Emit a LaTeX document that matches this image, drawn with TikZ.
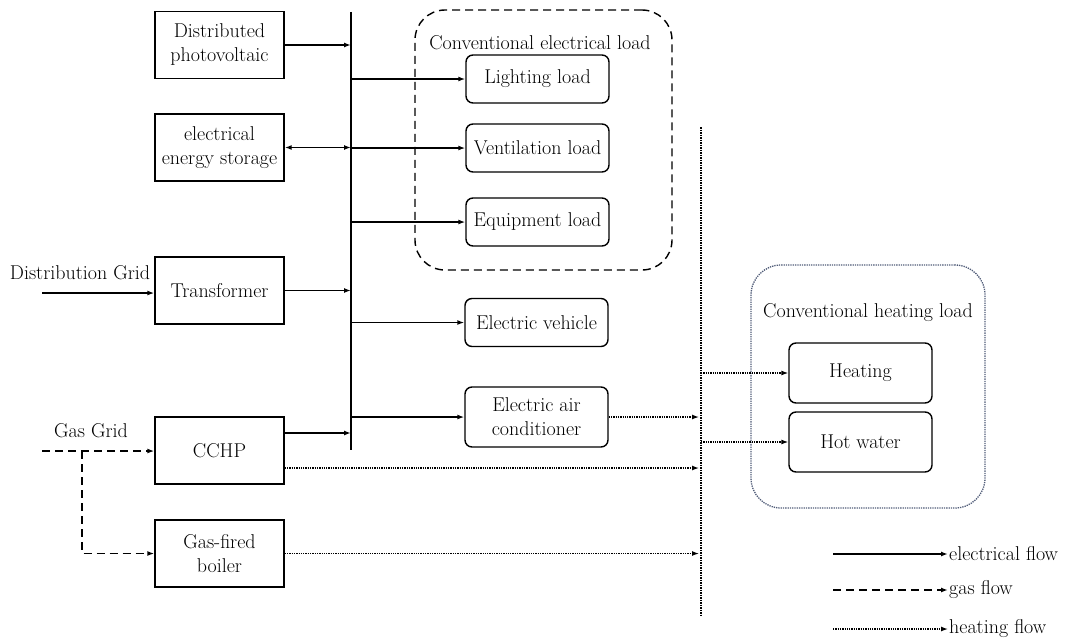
\documentclass[tikz,border=0pt]{standalone}
\usepackage{xcolor}
\usepackage{tikz}
\usetikzlibrary{arrows.meta, positioning, calc}

\definecolor{heatgrp}{RGB}{80,92,120}

\begin{document}
\begin{tikzpicture}[
    x=1pt, y=-1pt,
    font=\rmfamily\fontsize{20}{24}\selectfont,
    src/.style={rectangle, draw, line width=1.4pt, minimum width=129pt, minimum height=67pt, align=center, inner sep=2pt},
    load/.style={rectangle, rounded corners=7pt, draw, line width=1.4pt, minimum width=143pt, minimum height=#1, align=center, inner sep=2pt},
    load/.default=48pt,
    elec/.style={-{Latex[length=7pt, width=5pt]}, line width=1.4pt},
    gas/.style={elec, dash pattern=on 8pt off 5pt},
    heat/.style={elec, line width=1.3pt, densely dotted},
    bus/.style={line width=1.5pt}
]
\useasboundingbox (0,0) rectangle (1070,642);

% Sources
\node[src] (pv) at (219.5,45) {Distributed\\photovoltaic};
\node[src] (ees) at (219.5,147.5) {electrical\\energy storage};
\node[src] (trans) at (219.5,290.5) {Transformer};
\node[src] (cchp) at (219.5,450.5) {CCHP};
\node[src] (boiler) at (219.5,553.5) {Gas-fired\\boiler};

% Electrical bus
\coordinate (ebustop) at (351,12);
\coordinate (ebusbot) at (351,450);
\draw[bus] (ebustop) -- (ebusbot);

% Conventional electrical load
\node[draw, dash pattern=on 8pt off 5pt, line width=1.4pt, rounded corners=30pt,
      minimum width=257pt, minimum height=260pt] (elecgrp) at (543.5,140) {};
\node (eleclbl) at (540,43) {Conventional electrical load};
\node[load] (light) at (537.5,79) {Lighting load};
\node[load] (vent) at (537.5,148) {Ventilation load};
\node[load] (equip) at (537.5,222) {Equipment load};

% Other electrical loads
\node[load] (ev) at (536.5,322.5) {Electric vehicle};
\node[load=60pt] (ac) at (536.5,417) {Electric air\\conditioner};

% Heating bus
\coordinate (hbustop) at (701,127);
\coordinate (hbusbot) at (701,617);
\draw[bus, densely dotted] (hbustop) -- (hbusbot);

% Conventional heating load
\node[draw=heatgrp, densely dotted, line width=1.3pt, rounded corners=30pt,
      minimum width=234pt, minimum height=243pt] (heatgrp) at (868,386.5) {};
\node (heatlbl) at (868,313) {Conventional heating load};
\node[load=60pt] (heating) at (860.5,373) {Heating};
\node[load=60pt] (hotw) at (860.5,442) {Hot water};

% Grid inputs
\coordinate (dgrid) at (42,293);
\node (dgridlbl) at (80,273) {Distribution Grid};
\draw[elec] (dgrid) -- (dgrid -| trans.west);
\coordinate (ggrid) at (42,451);
\coordinate (gsplit) at (82,451);
\node (ggridlbl) at (91,431) {Gas Grid};
\draw[gas] (ggrid) -- (ggrid -| cchp.west);
\draw[gas] (gsplit) |- (boiler.west);

% Electrical flows
\draw[elec] (pv.east) -- (pv.east -| ebustop);
\draw[elec, {Latex[length=7pt, width=5pt]}-{Latex[length=7pt, width=5pt]}] (ees.east) -- (ees.east -| ebustop);
\draw[elec] (trans.east) -- (trans.east -| ebustop);
\draw[elec] ([yshift=17.5pt]cchp.east) -- ([yshift=17.5pt]cchp.east -| ebustop);
\draw[elec] (light.west -| ebustop) -- (light.west);
\draw[elec] (vent.west -| ebustop) -- (vent.west);
\draw[elec] (equip.west -| ebustop) -- (equip.west);
\draw[elec] (ev.west -| ebustop) -- (ev.west);
\draw[elec] (ac.west -| ebustop) -- (ac.west);

% Heating flows
\draw[heat] (ac.east) -- ([xshift=-2pt]ac.east -| hbustop);
\draw[heat] ([yshift=-17.5pt]cchp.east) -- ([xshift=-2pt,yshift=-17.5pt]cchp.east -| hbustop);
\draw[heat] (boiler.east) -- ([xshift=-2pt]boiler.east -| hbustop);
\draw[heat] (heating.west -| hbustop) -- (heating.west);
\draw[heat] (hotw.west -| hbustop) -- (hotw.west);

% Legend
\coordinate (lgelec) at (833,554);
\coordinate (lggas) at (833,590);
\coordinate (lgheat) at (833,629);
\node[anchor=west, inner sep=1pt] (lgeleclbl) at (948,554) {electrical flow};
\node[anchor=west, inner sep=1pt] (lggaslbl) at (948,590) {gas flow};
\node[anchor=west, inner sep=1pt] (lgheatlbl) at (948,629) {heating flow};
\draw[elec] (lgelec) -- (lgeleclbl.west);
\draw[gas] (lggas) -- (lggaslbl.west);
\draw[heat] (lgheat) -- (lgheatlbl.west);

\end{tikzpicture}
\end{document}
